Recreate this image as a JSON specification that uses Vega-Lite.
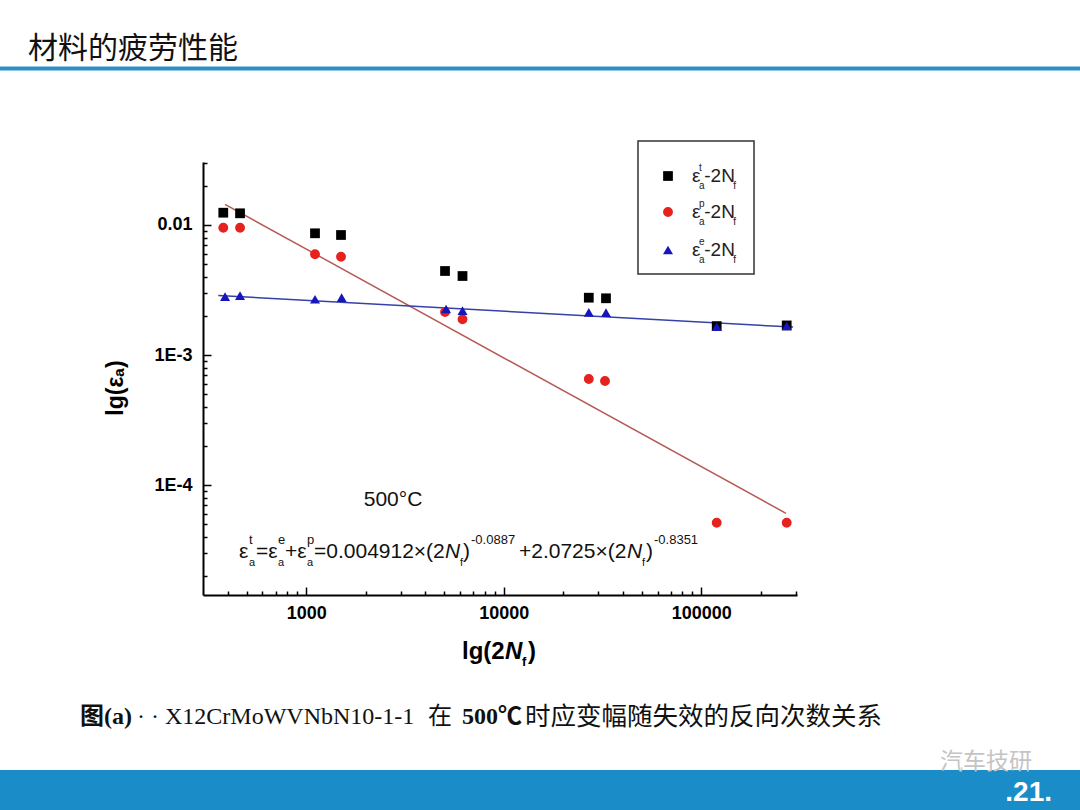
{
  "$schema": "https://vega.github.io/schema/vega-lite/v6.json",
  "width": 594,
  "height": 433,
  "autosize": {"type": "none"},
  "padding": {"left": 203, "top": 162, "right": 283, "bottom": 215},
  "background": "white",
  "config": {
    "view": {"stroke": null},
    "axis": {"labelFont": "Liberation Sans", "labelFontWeight": "bold", "labelFontSize": 18, "labelColor": "#000", "domainColor": "#000", "domainWidth": 2, "tickColor": "#000", "tickWidth": 1.5, "grid": false}
  },
  "datasets": {
    "pts": [
      {"series": "t", "N": 380, "eps": 0.01243},
      {"series": "t", "N": 462, "eps": 0.0123},
      {"series": "t", "N": 1107, "eps": 0.008633},
      {"series": "t", "N": 1499, "eps": 0.008377},
      {"series": "t", "N": 5039, "eps": 0.004429},
      {"series": "t", "N": 6179, "eps": 0.004053},
      {"series": "t", "N": 26930, "eps": 0.002761},
      {"series": "t", "N": 32910, "eps": 0.002732},
      {"series": "t", "N": 119620, "eps": 0.00167},
      {"series": "t", "N": 270500, "eps": 0.00169},
      {"series": "p", "N": 380, "eps": 0.009532},
      {"series": "p", "N": 462, "eps": 0.009532},
      {"series": "p", "N": 1107, "eps": 0.005953},
      {"series": "p", "N": 1499, "eps": 0.005706},
      {"series": "p", "N": 5039, "eps": 0.002143},
      {"series": "p", "N": 6179, "eps": 0.001883},
      {"series": "p", "N": 26930, "eps": 0.0006546},
      {"series": "p", "N": 32530, "eps": 0.0006318},
      {"series": "p", "N": 119620, "eps": 0.00005142},
      {"series": "p", "N": 270500, "eps": 0.00005142},
      {"series": "e", "N": 388, "eps": 0.00281},
      {"series": "e", "N": 462, "eps": 0.00286},
      {"series": "e", "N": 1107, "eps": 0.002684},
      {"series": "e", "N": 1510, "eps": 0.002761},
      {"series": "e", "N": 5100, "eps": 0.00226},
      {"series": "e", "N": 6179, "eps": 0.002193},
      {"series": "e", "N": 26930, "eps": 0.002132},
      {"series": "e", "N": 32910, "eps": 0.002117},
      {"series": "e", "N": 119620, "eps": 0.001652},
      {"series": "e", "N": 270500, "eps": 0.001673}
    ],
    "fit_p": [
      {"N": 387.7, "eps": 0.014422},
      {"N": 268300, "eps": 0.00006073}
    ],
    "fit_e": [
      {"N": 358.5, "eps": 0.00287},
      {"N": 291100, "eps": 0.00164}
    ],
    "header_line": [{"N": 1, "N2": 100000000, "eps": 0.16544, "eps2": 0.15408}],
    "footer_bar": [{"N": 1, "N2": 100000000, "eps": 6.453e-7, "eps2": 1e-9}],
    "slide_title": [{"t": "材料的疲劳性能", "N": 39.0, "eps": 0.2260}],
    "page_no": [{"t": ".21.", "N": 5962000, "eps": 4.296e-7}],
    "watermark": [{"t": "汽车技研", "N": 1615000, "eps": 7.437e-7}],
    "cap_bold": [
      {"t": "图(a)", "N": 71.5, "eps": 1.65e-6},
      {"t": "500℃", "N": 6143, "eps": 1.65e-6}
    ],
    "cap_norm": [
      {"t": "· ·", "N": 139.0, "eps": 1.65e-6},
      {"t": "X12CrMoWVNbN10-1-1", "N": 192.7, "eps": 1.65e-6},
      {"t": "在", "N": 4132, "eps": 1.65e-6}
    ],
    "cap_cjk": [
      {"t": "时应变幅随失效的反向次数关系", "N": 12800, "eps": 1.65e-6}
    ],
    "legend_box": [{"N": 47790, "N2": 184800, "eps": 0.04421, "eps2": 0.0042}],
    "leg_sym": [
      {"series": "t", "N": 67800, "eps": 0.0238},
      {"series": "p", "N": 67800, "eps": 0.01259},
      {"series": "e", "N": 67800, "eps": 0.006423}
    ],
    "leg_main": [
      {"t": "ε", "N": 89700, "eps": 0.0238},
      {"t": "ε", "N": 89700, "eps": 0.01259},
      {"t": "ε", "N": 89700, "eps": 0.006423},
      {"t": "-2N", "N": 103500, "eps": 0.0238},
      {"t": "-2N", "N": 103500, "eps": 0.01259},
      {"t": "-2N", "N": 103500, "eps": 0.006423}
    ],
    "leg_sup": [
      {"t": "t", "N": 97300, "eps": 0.0238},
      {"t": "p", "N": 97300, "eps": 0.01259},
      {"t": "e", "N": 97300, "eps": 0.006423}
    ],
    "leg_sub": [
      {"t": "a", "N": 97300, "eps": 0.0238},
      {"t": "a", "N": 97300, "eps": 0.01259},
      {"t": "a", "N": 97300, "eps": 0.006423},
      {"t": "f", "N": 145000, "eps": 0.0238},
      {"t": "f", "N": 145000, "eps": 0.01259},
      {"t": "f", "N": 145000, "eps": 0.006423}
    ],
    "temp_label": [{"t": "500°C", "N": 2748, "eps": 0.00007685}],
    "fm_main": [
      {"t": "ε", "N": 456.4, "eps": 0.00003061},
      {"t": "=ε", "N": 556.5, "eps": 0.00003061},
      {"t": "+ε", "N": 780.2, "eps": 0.00003061},
      {"t": "=0.004912×(2", "N": 1094, "eps": 0.00003061},
      {"t": ")", "N": 6216, "eps": 0.00003061},
      {"t": "+2.0725×(2", "N": 11935, "eps": 0.00003061},
      {"t": ")", "N": 52460, "eps": 0.00003061}
    ],
    "fm_ital": [
      {"t": "N", "N": 5039, "eps": 0.00003061},
      {"t": "N", "N": 42050, "eps": 0.00003061}
    ],
    "fm_sup": [
      {"t": "t", "N": 512.9, "eps": 0.00003061},
      {"t": "e", "N": 719.2, "eps": 0.00003061},
      {"t": "p", "N": 1008.4, "eps": 0.00003061},
      {"t": "-0.0887", "N": 6823, "eps": 0.00003061},
      {"t": "-0.8351", "N": 57590, "eps": 0.00003061}
    ],
    "fm_sub": [
      {"t": "a", "N": 512.9, "eps": 0.00003061},
      {"t": "a", "N": 719.2, "eps": 0.00003061},
      {"t": "a", "N": 1008.4, "eps": 0.00003061},
      {"t": "f", "N": 6002, "eps": 0.00003061},
      {"t": "f", "N": 50080, "eps": 0.00003061}
    ],
    "xt_main": [
      {"t": "lg(2", "N": 6143, "eps": 5.214e-6},
      {"t": ")", "N": 13259, "eps": 5.214e-6}
    ],
    "xt_ital": [{"t": "N", "N": 10139, "eps": 5.214e-6}],
    "xt_sub": [{"t": "f", "N": 12360, "eps": 5.214e-6}],
    "yt": [{"t": "lg(εₐ)", "N": 108.8, "eps": 0.0005581}]
  },
  "encoding": {
    "x": {"field": "N", "type": "quantitative", "scale": {"type": "log", "domain": [300, 305000], "nice": false}, "axis": null},
    "y": {"field": "eps", "type": "quantitative", "scale": {"type": "log", "domain": [0.0000143, 0.0305], "nice": false}, "axis": null}
  },
  "layer": [
    {
      "data": {"name": "header_line"},
      "mark": {"type": "rect", "color": "#2a90c5"},
      "encoding": {"x2": {"field": "N2"}, "y2": {"field": "eps2"}}
    },
    {
      "data": {"name": "footer_bar"},
      "mark": {"type": "rect", "color": "#1a8dc8"},
      "encoding": {"x2": {"field": "N2"}, "y2": {"field": "eps2"}}
    },
    {
      "data": {"name": "slide_title"},
      "mark": {"type": "text", "font": "Noto Sans CJK SC", "fontSize": 30, "align": "left", "baseline": "middle", "color": "#111111"},
      "encoding": {"text": {"field": "t"}}
    },
    {
      "data": {"name": "watermark"},
      "mark": {"type": "text", "font": "Noto Sans CJK SC", "fontSize": 23, "align": "left", "baseline": "middle", "color": "#c4c4c4"},
      "encoding": {"text": {"field": "t"}}
    },
    {
      "data": {"name": "page_no"},
      "mark": {"type": "text", "font": "Liberation Sans Narrow, Liberation Sans", "fontSize": 28, "fontWeight": "bold", "align": "right", "baseline": "middle", "color": "#ffffff"},
      "encoding": {"text": {"field": "t"}}
    },
    {
      "data": {"name": "cap_bold"},
      "mark": {"type": "text", "font": "Liberation Serif, Noto Sans CJK SC", "fontSize": 24, "fontWeight": "bold", "align": "left", "baseline": "middle", "color": "#111111"},
      "encoding": {"text": {"field": "t"}}
    },
    {
      "data": {"name": "cap_norm"},
      "mark": {"type": "text", "font": "Liberation Serif, Noto Sans CJK SC", "fontSize": 24, "align": "left", "baseline": "middle", "color": "#111111"},
      "encoding": {"text": {"field": "t"}}
    },
    {
      "data": {"name": "cap_cjk"},
      "mark": {"type": "text", "font": "Noto Sans CJK SC", "fontSize": 25.5, "align": "left", "baseline": "middle", "color": "#111111"},
      "encoding": {"text": {"field": "t"}}
    },
    {
      "data": {"name": "pts"},
      "mark": {"type": "point", "opacity": 0},
      "encoding": {
        "x": {"field": "N", "type": "quantitative", "scale": {"type": "log", "domain": [300, 305000], "nice": false},
          "axis": {"orient": "bottom", "title": null, "values": [400, 500, 600, 700, 800, 900, 2000, 3000, 4000, 5000, 6000, 7000, 8000, 9000, 20000, 30000, 40000, 50000, 60000, 70000, 80000, 90000, 200000, 300000], "labels": false, "domain": false, "tickSize": -4}},
        "y": {"field": "eps", "type": "quantitative", "scale": {"type": "log", "domain": [0.0000143, 0.0305], "nice": false},
          "axis": {"orient": "left", "title": null, "values": [0.00002, 0.00003, 0.00004, 0.00005, 0.00006, 0.00007, 0.00008, 0.00009, 0.0002, 0.0003, 0.0004, 0.0005, 0.0006, 0.0007, 0.0008, 0.0009, 0.002, 0.003, 0.004, 0.005, 0.006, 0.007, 0.008, 0.009, 0.02, 0.03], "labels": false, "domain": false, "tickSize": -4}}
      }
    },
    {
      "data": {"name": "pts"},
      "mark": {"type": "point", "opacity": 0},
      "encoding": {
        "x": {"field": "N", "type": "quantitative", "scale": {"type": "log", "domain": [300, 305000], "nice": false},
          "axis": {"orient": "bottom", "title": null, "values": [1000, 10000, 100000], "format": "d", "tickSize": -8, "labelPadding": 17}},
        "y": {"field": "eps", "type": "quantitative", "scale": {"type": "log", "domain": [0.0000143, 0.0305], "nice": false},
          "axis": {"orient": "left", "title": null, "values": [0.0001, 0.001, 0.01], "labelExpr": "datum.value > 0.005 ? '0.01' : datum.value > 0.0005 ? '1E-3' : '1E-4'", "tickSize": -8, "labelPadding": 19}}
      }
    },
    {
      "data": {"name": "fit_p"},
      "mark": {"type": "line", "color": "#b65a55", "strokeWidth": 1.5},
      "encoding": {}
    },
    {
      "data": {"name": "fit_e"},
      "mark": {"type": "line", "color": "#3541a8", "strokeWidth": 1.5},
      "encoding": {}
    },
    {
      "data": {"name": "pts"},
      "mark": {"type": "point", "filled": true, "opacity": 1},
      "encoding": {
        "color": {"field": "series", "type": "nominal", "scale": {"domain": ["t", "p", "e"], "range": ["#000000", "#e5221d", "#1616bc"]}, "legend": null},
        "shape": {"field": "series", "type": "nominal", "scale": {"domain": ["t", "p", "e"], "range": ["square", "circle", "triangle-up"]}, "legend": null},
        "size": {"field": "series", "type": "nominal", "scale": {"domain": ["t", "p", "e"], "range": [95, 100, 180]}, "legend": null}
      }
    },
    {
      "data": {"name": "legend_box"},
      "mark": {"type": "rect", "filled": false, "stroke": "#333333", "strokeWidth": 1.5},
      "encoding": {"x2": {"field": "N2"}, "y2": {"field": "eps2"}}
    },
    {
      "data": {"name": "leg_sym"},
      "mark": {"type": "point", "filled": true, "opacity": 1},
      "encoding": {
        "color": {"field": "series", "type": "nominal", "legend": null},
        "shape": {"field": "series", "type": "nominal", "legend": null},
        "size": {"field": "series", "type": "nominal", "legend": null}
      }
    },
    {
      "data": {"name": "leg_main"},
      "mark": {"type": "text", "font": "Liberation Sans", "fontSize": 19, "align": "left", "baseline": "middle", "color": "#222222"},
      "encoding": {"text": {"field": "t"}}
    },
    {
      "data": {"name": "leg_sup"},
      "mark": {"type": "text", "font": "Liberation Sans", "fontSize": 10, "align": "left", "baseline": "middle", "dy": -8, "color": "#222222"},
      "encoding": {"text": {"field": "t"}}
    },
    {
      "data": {"name": "leg_sub"},
      "mark": {"type": "text", "font": "Liberation Sans", "fontSize": 10, "align": "left", "baseline": "middle", "dy": 10, "color": "#222222"},
      "encoding": {"text": {"field": "t"}}
    },
    {
      "data": {"name": "temp_label"},
      "mark": {"type": "text", "font": "Liberation Sans", "fontSize": 21, "align": "center", "baseline": "middle", "color": "#111111"},
      "encoding": {"text": {"field": "t"}}
    },
    {
      "data": {"name": "fm_main"},
      "mark": {"type": "text", "font": "Liberation Sans", "fontSize": 21, "align": "left", "baseline": "middle", "color": "#111111"},
      "encoding": {"text": {"field": "t"}}
    },
    {
      "data": {"name": "fm_ital"},
      "mark": {"type": "text", "font": "Liberation Sans", "fontSize": 21, "fontStyle": "italic", "align": "left", "baseline": "middle", "color": "#111111"},
      "encoding": {"text": {"field": "t"}}
    },
    {
      "data": {"name": "fm_sup"},
      "mark": {"type": "text", "font": "Liberation Sans", "fontSize": 13, "align": "left", "baseline": "middle", "dy": -12, "color": "#111111"},
      "encoding": {"text": {"field": "t"}}
    },
    {
      "data": {"name": "fm_sub"},
      "mark": {"type": "text", "font": "Liberation Sans", "fontSize": 11, "align": "left", "baseline": "middle", "dy": 11, "color": "#111111"},
      "encoding": {"text": {"field": "t"}}
    },
    {
      "data": {"name": "xt_main"},
      "mark": {"type": "text", "font": "Liberation Sans", "fontSize": 24, "fontWeight": "bold", "align": "left", "baseline": "middle", "color": "#000000"},
      "encoding": {"text": {"field": "t"}}
    },
    {
      "data": {"name": "xt_ital"},
      "mark": {"type": "text", "font": "Liberation Sans", "fontSize": 24, "fontWeight": "bold", "fontStyle": "italic", "align": "left", "baseline": "middle", "color": "#000000"},
      "encoding": {"text": {"field": "t"}}
    },
    {
      "data": {"name": "xt_sub"},
      "mark": {"type": "text", "font": "Liberation Sans", "fontSize": 13, "fontWeight": "bold", "align": "left", "baseline": "middle", "dy": 10, "color": "#000000"},
      "encoding": {"text": {"field": "t"}}
    },
    {
      "data": {"name": "yt"},
      "mark": {"type": "text", "font": "Liberation Sans", "fontSize": 23, "fontWeight": "bold", "align": "center", "baseline": "middle", "angle": 270, "color": "#000000"},
      "encoding": {"text": {"field": "t"}}
    }
  ],
  "resolve": {"axis": {"x": "independent", "y": "independent"}}
}
